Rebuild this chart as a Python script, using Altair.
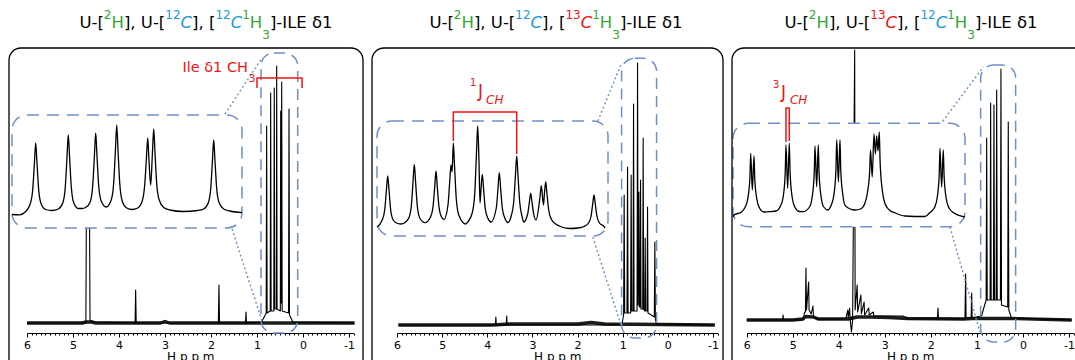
import altair as alt
import pandas as pd

# ======================= data =======================
# x: chemical shift (ppm), y: intensity (a.u.)
ppm_ticks = [6, 5, 4, 3, 2, 1, 0, -1]

# ---- panel 1 : U-[2H], U-[12C], [12C1H3]-ILE d1 ----
spec1_ppm = [6.00, 4.72, 4.705, 4.645, 4.63, 4.55, 3.65, 3.638, 3.626, 1.84, 1.827, 1.815,
             1.25, 1.239, 1.228, 0.90, 0.80, 0.790, 0.780, 0.713, 0.703, 0.693, 0.635, 0.625,
             0.615, 0.580, 0.572, 0.564, 0.493, 0.485, 0.475, 0.463, 0.453, 0.314, 0.304,
             0.294, 0.22, -1.12]
spec1_int = [0, 0, 150, 150, 3, 1, 0, 33, 0, 0, 38, 0, 0, 11, 0, 1, 10, 197, 10, 12, 230, 12,
             12, 235, 14, 14, 257, 14, 12, 212, 20, 241, 12, 10, 214, 8, 1, 0]
base1_ppm = [6.00, 4.80, 4.72, 4.60, 4.50, 3.10, 3.00, 2.90, -1.12]
base1_int = [0, 0, 1, 1, 0, 0, 1.5, 0, 0]
inset1_ppm = [0.854, 0.833, 0.8167, 0.8045, 0.7977, 0.7930, 0.7895, 0.7860, 0.7813, 0.7745,
              0.7623, 0.7451, 0.7280, 0.7158, 0.7090, 0.7043, 0.7008, 0.6973, 0.6926, 0.6858,
              0.6736, 0.6635, 0.6534, 0.6412, 0.6344, 0.6297, 0.6262, 0.6227, 0.6180, 0.6112,
              0.5976, 0.5840, 0.5772, 0.5725, 0.5690, 0.5655, 0.5608, 0.5540, 0.5418, 0.5274,
              0.5118, 0.4996, 0.4928, 0.4881, 0.4846, 0.4811, 0.4765, 0.4718, 0.4683, 0.4648,
              0.4601, 0.4533, 0.4411, 0.4247, 0.3886, 0.3486, 0.3322, 0.3200, 0.3132, 0.3085,
              0.3050, 0.3015, 0.2968, 0.2900, 0.2778, 0.2614, 0.228]
inset1_int = [-1.5, -1.8, 1.5, 9, 23, 50, 70, 50, 23, 9, 3.5, 2.5, 4, 10, 26, 56, 78, 56, 26, 10,
              4.5, 4.5, 5.5, 11, 27, 57, 80, 57, 27, 12, 6, 13, 30, 63, 88, 63, 30, 12, 5, 3.5,
              5, 12, 28, 55, 75, 52, 28, 60, 84, 60, 29, 13, 5.5, 3, 1.5, 2.5, 4, 10, 24, 52,
              73, 52, 24, 10, 4, 2, 0.5]

# ---- panel 2 : U-[2H], U-[12C], [13C1H3]-ILE d1 ----
spec2_ppm = [5.97, 3.82, 3.81, 3.80, 3.58, 3.57, 3.56, 1.02, 0.98, 0.968, 0.956, 0.905, 0.893,
             0.881, 0.825, 0.813, 0.801, 0.772, 0.760, 0.748, 0.683, 0.671, 0.660, 0.642, 0.632,
             0.615, 0.605, 0.595, 0.557, 0.547, 0.537, 0.512, 0.502, 0.492, 0.460, 0.450, 0.440,
             0.300, 0.288, 0.276, 0.25, -1.04]
spec2_int = [0, 0, 8, 0, 0, 9, 0, 0, 10, 130, 12, 12, 158, 12, 12, 150, 14, 14, 221, 14, 14, 262,
             20, 133, 18, 18, 145, 16, 16, 187, 16, 14, 87, 14, 14, 118, 12, 8, 83, 6, 1, 0]
base2_ppm = [5.97, 3.90, 3.50, 2.00, 1.70, 1.40, -1.04]
base2_int = [0, 0, 1, 1, 2.5, 1, 0]
inset2_ppm = [0.9967, 0.9798, 0.9717, 0.9662, 0.9620, 0.9578, 0.9523, 0.9442, 0.9296, 0.9189,
              0.9082, 0.8936, 0.8855, 0.8800, 0.8758, 0.8716, 0.8661, 0.8580, 0.8411, 0.8233,
              0.8152, 0.8097, 0.8055, 0.8013, 0.7958, 0.7877, 0.7796, 0.7666, 0.7611, 0.7569,
              0.7532, 0.7494, 0.7452, 0.7397, 0.7316, 0.7099, 0.7027, 0.6881, 0.6800, 0.6745,
              0.6703, 0.6661, 0.6628, 0.6596, 0.6554, 0.6512, 0.6457, 0.6376, 0.6272, 0.6100,
              0.6045, 0.6003, 0.5961, 0.5906, 0.5825, 0.5721, 0.5617, 0.5536, 0.5481, 0.5439,
              0.5397, 0.5342, 0.5261, 0.5212, 0.5083, 0.5028, 0.4986, 0.4944, 0.4889, 0.4814,
              0.4684, 0.4642, 0.4571, 0.4541, 0.4499, 0.4457, 0.4402, 0.4321, 0.4175, 0.3980,
              0.3712, 0.3453, 0.3258, 0.3112, 0.3031, 0.2976, 0.2934, 0.2892, 0.2837, 0.2756,
              0.2610, 0.2578]
inset2_int = [0, 7, 17, 37, 51, 37, 17, 7, 3.5, 3, 4, 9, 21, 45, 62.7, 45, 21, 9, 4.3, 10, 20,
              40, 56, 40, 20, 10, 7.5, 22, 45, 62, 55, 84, 60, 28, 12, 3, 5, 14, 33, 72, 101, 65,
              24, 38, 52.7, 38, 18, 9, 5, 19, 39, 54.3, 39, 19, 9, 4.5, 11, 25, 51, 71, 51, 25,
              10, 5, 13, 25, 33.7, 25, 13, 7, 30, 41.3, 22, 33, 45.3, 33, 17, 8, 3, 0, -1.5, -1,
              0.5, 4, 10.5, 23, 32, 23, 10.5, 4, 0.5, -1]

# ---- panel 3 : U-[2H], U-[13C], [12C1H3]-ILE d1 ----
spec3_ppm = [6.00, 5.22, 5.21, 5.20, 4.78, 4.74, 4.725, 4.713, 4.700, 4.655, 4.645, 4.600, 4.561,
             4.550, 4.450, 3.850, 3.805, 3.795, 3.765, 3.755, 3.725, 3.700, 3.655, 3.645, 3.600,
             3.590, 3.520, 3.510, 3.450, 3.440, 3.350, 3.340, 3.250, 3.240, 2.600, 2.500, 1.860,
             1.845, 1.835, 1.260, 1.245, 1.235, 1.125, 1.114, 1.104, 0.900, 0.800, 0.788, 0.776,
             0.714, 0.702, 0.690, 0.642, 0.630, 0.618, 0.583, 0.571, 0.559, 0.490, 0.478, 0.466,
             0.331, 0.319, 0.307, 0.250, -1.06]
spec3_int = [0, 0, 5, 0, 0, 8, 8, 52, 10, 38, 10, 6, 14, 3, 1, 1, 10, 2, 12, 2, -12, 0, 270, 10,
             35, 8, 25, 6, 18, 5, 12, 5, 8, 4, 4, 1, 1, 12, 1, 1, 46, 2, 2, 27, 2, 4, 20, 182, 20,
             20, 217, 20, 20, 215, 20, 20, 230, 20, 20, 251, 15, 13, 198, 10, 2, 0]
base3_ppm = [6.00, 5.00, 4.78, 4.72, 4.55, 4.45, 3.80, 3.60, 3.30, 2.90, 2.50, 1.30, 1.10, 0.90,
             0.25, -1.06]
base3_int = [0, 0, 1, 3.5, 3, 1, 1, 3, 3, 2.5, 1.5, 1, 1.5, 1.5, 1.5, 0]
inset3_ppm = [0.836, 0.8318, 0.8169, 0.8058, 0.7996, 0.7942, 0.7922, 0.7882, 0.7840, 0.7820,
              0.7766, 0.7704, 0.7593, 0.7445, 0.7296, 0.7185, 0.7123, 0.7069, 0.7049, 0.7008,
              0.6967, 0.6947, 0.6893, 0.6831, 0.6720, 0.6628, 0.6467, 0.6405, 0.6351, 0.6331,
              0.6290, 0.6250, 0.6230, 0.6176, 0.6114, 0.6010, 0.5930, 0.5868, 0.5814, 0.5794,
              0.5753, 0.5713, 0.5693, 0.5639, 0.5577, 0.5342, 0.5205, 0.5094, 0.5032, 0.4978,
              0.4958, 0.4916, 0.4872, 0.4837, 0.4805, 0.4773, 0.4741, 0.4721, 0.4667, 0.4605,
              0.4494, 0.4345, 0.4105, 0.3610, 0.3486, 0.3375, 0.3313, 0.3259, 0.3239, 0.3198,
              0.3157, 0.3137, 0.3083, 0.3021, 0.2910, 0.262]
inset3_int = [-0.7, 1.5, 3.5, 9, 17, 38, 62.7, 26, 60, 36, 16, 8, 4, 4.3, 5, 10, 18, 42, 71,
              27.7, 72.7, 43, 18, 9, 4.5, 4.3, 9, 18, 42, 70, 29.3, 71, 42, 18, 9, 6, 11, 20, 45,
              76, 34, 76, 45, 20, 10, 6, 7, 13, 24, 45, 66, 39, 82, 62, 80, 65, 84, 55, 26, 13,
              6, 3, 0, -0.5, 3.5, 8.5, 17, 40, 67.7, 29, 66, 40, 17, 8.5, 3.5, -1]

# zoom windows of the insets (ppm) and of the magnifier outlines (ppm, a.u.)
inset_window = [(0.854, 0.228), (0.9967, 0.248), (0.836, 0.262)]
inset_int_range = [(-15, 98), (-9, 106), (-10.7, 92.7)]
mag_ppm = [(0.913, 0.115), (1.025, 0.250), (0.919, 0.159)]
mag_int = [(-10, 270), (-13, 266.7), (-22, 255)]
# dotted connectors (ppm, a.u.) -> (ppm, a.u.)
connectors = [
    [(1.696, 209, 0.891, 265), (1.543, 94, 0.891, 2)],
    [(1.550, 204, 1.025, 262), (1.661, 88, 1.025, -2)],
    [(1.803, 195, 0.862, 253), (1.586, 93, 0.934, -12)],
]
# red J-coupling / methyl brackets
bracket1_ppm = [1.00, 1.00, 0.02, 0.02]
bracket1_int = [235, 245, 245, 235]
bracket2_ppm = [0.7494, 0.7494, 0.5439, 0.5439]
bracket2_int = [86, 115, 115, 73]
bracket3_ppm = [0.7049, 0.7049, 0.6967, 0.6967]
bracket3_int = [74, 108, 108, 75]

# panel titles: (text, colour key, kind)
titles = [
    [("U-[", "k", "n"), ("2", "g", "sup"), ("H", "g", "n"), ("], U-[", "k", "n"),
     ("12", "b", "sup"), ("C", "b", "it"), ("], [", "k", "n"), ("12", "b", "sup"),
     ("C", "b", "it"), ("1", "g", "sup"), ("H", "g", "n"), ("3", "g", "sub"),
     ("]-ILE δ1", "k", "n")],
    [("U-[", "k", "n"), ("2", "g", "sup"), ("H", "g", "n"), ("], U-[", "k", "n"),
     ("12", "b", "sup"), ("C", "b", "it"), ("], [", "k", "n"), ("13", "r", "sup"),
     ("C", "r", "it"), ("1", "g", "sup"), ("H", "g", "n"), ("3", "g", "sub"),
     ("]-ILE δ1", "k", "n")],
    [("U-[", "k", "n"), ("2", "g", "sup"), ("H", "g", "n"), ("], U-[", "k", "n"),
     ("13", "r", "sup"), ("C", "r", "it"), ("], [", "k", "n"), ("12", "b", "sup"),
     ("C", "b", "it"), ("1", "g", "sup"), ("H", "g", "n"), ("3", "g", "sub"),
     ("]-ILE δ1", "k", "n")],
]

# ======================= layout / style =======================
BLUE = "#6f8fca"
RED = "#f01414"
COL = {"k": "#000000", "g": "#33a633", "b": "#1b9ad6", "r": "#f01414"}
FONT = "DejaVu Sans"
LAY = [
    dict(x6=27.0, xm1=349.0, base=323, ibox=(12, 242), ibase=213, tc=206),
    dict(x6=397.0, xm1=713.0, base=325, ibox=(377, 608), ibase=227, tc=556),
    dict(x6=746.7, xm1=1069.0, base=320, ibox=(733, 965), ibase=216, tc=911),
]
FRAMES = [(9, 363, 48, 372), (372, 723, 48, 372), (732, 1090, 48, 372)]


def main_x(p):
    L = LAY[p]
    k = (L["xm1"] - L["x6"]) / 7.0
    return alt.Scale(domain=[6, -1.1], range=[L["x6"], L["x6"] + 7.1 * k], nice=False, zero=False)


def main_y(p):
    b = LAY[p]["base"]
    return alt.Scale(domain=[0, 300], range=[b, b - 300], nice=False, zero=False)


def ins_x(p):
    return alt.Scale(domain=list(inset_window[p]), range=list(LAY[p]["ibox"]), nice=False, zero=False)


def ins_y(p):
    b = LAY[p]["ibase"]
    return alt.Scale(domain=[0, 100], range=[b, b - 100], nice=False, zero=False)


def df_line(xs, ys):
    return pd.DataFrame({"ppm": xs, "int": ys, "i": list(range(len(xs)))})


def line(df, xs, ys, sw, interp="linear", axis=None, color="black"):
    return alt.Chart(df).mark_line(color=color, strokeWidth=sw, interpolate=interp,
                                   strokeJoin="round").encode(
        x=alt.X("ppm:Q", scale=xs, axis=axis),
        y=alt.Y("int:Q", scale=ys, axis=None),
        order=alt.Order("i:Q"))


def box(xr, yr, xs, ys, **mk):
    df = pd.DataFrame({"x1": [xr[0]], "x2": [xr[1]], "y1": [yr[0]], "y2": [yr[1]]})
    return alt.Chart(df).mark_rect(**mk).encode(
        x=alt.X("x1:Q", scale=xs, axis=None), x2="x2:Q",
        y=alt.Y("y1:Q", scale=ys, axis=None), y2="y2:Q")


def rules(rows, xs, ys):
    df = pd.DataFrame(rows, columns=["x1", "y1", "x2", "y2"])
    return alt.Chart(df).mark_rule(color=BLUE, strokeWidth=1.4, strokeDash=[2, 2.5]).encode(
        x=alt.X("x1:Q", scale=xs, axis=None), y=alt.Y("y1:Q", scale=ys, axis=None),
        x2="x2:Q", y2="y2:Q")


def texts(rows, xs, ys, align="left", italic=False, color=RED):
    df = pd.DataFrame(rows, columns=["text", "ppm", "int", "size"])
    return alt.Chart(df).mark_text(align=align, baseline="alphabetic", font=FONT,
                                   fontStyle="italic" if italic else "normal", color=color).encode(
        x=alt.X("ppm:Q", scale=xs, axis=None), y=alt.Y("int:Q", scale=ys, axis=None),
        text="text:N", size=alt.Size("size:Q", scale=None, legend=None))


minor_ticks = [round(v / 10.0, 1) for v in range(-11, 61) if v % 10 != 0]

major_axis = alt.Axis(values=ppm_ticks, orient="bottom", title="H  p p m",
                      labelExpr="'' + datum.value", tickSize=4, labelPadding=2,
                      labelFont=FONT, labelFontSize=11, labelColor="black",
                      titleFont=FONT, titleFontSize=12, titleFontWeight="normal",
                      titleColor="black", titlePadding=1, domainColor="black",
                      tickColor="black", grid=False, labelFlush=False, labelOverlap=False)
minor_axis = alt.Axis(values=minor_ticks, orient="bottom", labels=False, domain=False,
                      tickSize=2, tickColor="black", title=None, grid=False)

spectra = [(spec1_ppm, spec1_int), (spec2_ppm, spec2_int), (spec3_ppm, spec3_int)]
bases = [(base1_ppm, base1_int), (base2_ppm, base2_int), (base3_ppm, base3_int)]
insets = [(inset1_ppm, inset1_int), (inset2_ppm, inset2_int), (inset3_ppm, inset3_int)]

layers = []
for p in range(3):
    mx, my, ix, iy = main_x(p), main_y(p), ins_x(p), ins_y(p)
    layers.append(line(df_line(*bases[p]), mx, my, 3.4, axis=minor_axis, color="#1c1c1c"))
    layers.append(line(df_line(*spectra[p]), mx, my, 1.1, axis=major_axis))
    layers.append(box(mag_ppm[p], mag_int[p], mx, my, fillOpacity=0, stroke=BLUE,
                      strokeWidth=1.5, strokeDash=[11, 7], cornerRadius=13))
    layers.append(rules(connectors[p], mx, my))
    layers.append(box(inset_window[p], inset_int_range[p], ix, iy, fill="white", stroke=BLUE,
                      strokeWidth=1.5, strokeDash=[12, 8], cornerRadius=15))
    layers.append(line(df_line(*insets[p]), ix, iy, 1.3, interp="monotone"))

# red annotations
layers.append(line(df_line(bracket1_ppm, bracket1_int), main_x(0), main_y(0), 1.5, color=RED))
layers.append(texts([("Ile δ1 CH", 1.196, 251, 14.5)], main_x(0), main_y(0), align="right"))
layers.append(texts([("3", 1.185, 241, 11)], main_x(0), main_y(0)))
layers.append(line(df_line(bracket2_ppm, bracket2_int), ins_x(1), ins_y(1), 1.5, color=RED))
layers.append(texts([("1", 0.6953, 141, 10), ("J", 0.6694, 130, 17)], ins_x(1), ins_y(1)))
layers.append(texts([("CH", 0.6434, 123, 12)], ins_x(1), ins_y(1), italic=True))
layers.append(line(df_line(bracket3_ppm, bracket3_int), ins_x(2), ins_y(2), 1.5, color=RED))
layers.append(texts([("3", 0.7370, 128, 10), ("J", 0.7172, 118, 17)], ins_x(2), ins_y(2)))
layers.append(texts([("CH", 0.6950, 112, 12)], ins_x(2), ins_y(2), italic=True))

# titles (rich text assembled from segments)
CW = {"U": 0.732, "-": 0.361, "[": 0.390, "]": 0.390, "H": 0.752, ",": 0.318, " ": 0.318,
      "C": 0.698, "I": 0.295, "L": 0.557, "E": 0.632, "δ": 0.612, "1": 0.636, "2": 0.636,
      "3": 0.636}
SZ = {"n": 16.5, "it": 16.5, "sup": 12, "sub": 12}
YB = {"n": 28, "it": 28, "sup": 18.5, "sub": 39}
rows = []
for p, segs in enumerate(titles):
    widths = [sum(CW[c] for c in t) * SZ[k] for t, _, k in segs]
    x = LAY[p]["tc"] - sum(widths) / 2.0
    for (t, c, k), w in zip(segs, widths):
        rows.append(dict(text=t, x=x, y=YB[k], color=COL[c], size=SZ[k], it=int(k == "it")))
        x += w
tdf = pd.DataFrame(rows)
for it in (0, 1):
    layers.append(alt.Chart(tdf[tdf.it == it]).mark_text(
        align="left", baseline="alphabetic", font=FONT,
        fontStyle="italic" if it else "normal").encode(
        x=alt.X("x:Q", scale=None, axis=None), y=alt.Y("y:Q", scale=None, axis=None),
        text="text:N", color=alt.Color("color:N", scale=None, legend=None),
        size=alt.Size("size:Q", scale=None, legend=None)))

# panel frames
fdf = pd.DataFrame(FRAMES, columns=["x1", "x2", "y1", "y2"])
layers.append(alt.Chart(fdf).mark_rect(fillOpacity=0, stroke="black", strokeWidth=1.3,
                                        cornerRadius=12).encode(
    x=alt.X("x1:Q", scale=None, axis=None), x2="x2:Q",
    y=alt.Y("y1:Q", scale=None, axis=None), y2="y2:Q"))

chart = alt.layer(*layers).resolve_scale(x="independent", y="independent").resolve_axis(
    x="independent", y="independent").properties(
    width=1075, height=333,
    padding={"left": 0, "top": 0, "right": 0, "bottom": 27},
    autosize=alt.AutoSizeParams(type="none"),
    background="white",
).configure_view(strokeWidth=0)

chart.save("out.html", embed_options={"renderer": "svg", "actions": False})
